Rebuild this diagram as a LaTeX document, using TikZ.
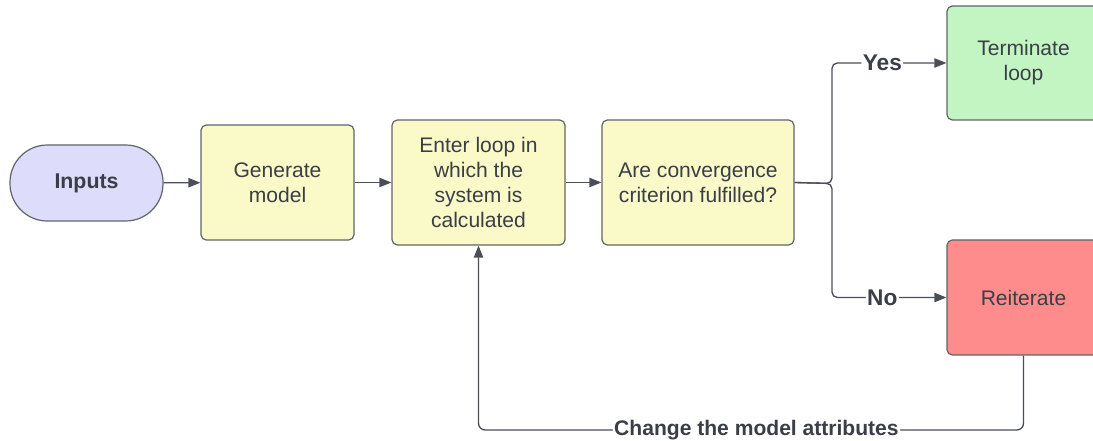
\documentclass[tikz,border=0pt]{standalone}
\usepackage{fontspec}
\setmainfont{Liberation Sans}
\usetikzlibrary{arrows.meta}
\definecolor{txt}{HTML}{3A3F47}
\definecolor{edge}{HTML}{5F646B}
\definecolor{ln}{HTML}{4A4F57}
\definecolor{yel}{HTML}{FAF9C8}
\definecolor{pur}{HTML}{DDDDFB}
\definecolor{grn}{HTML}{C3F5C3}
\definecolor{rd}{HTML}{FF8C8C}
\tikzset{
  box/.style={draw=edge, line width=0.9pt, rounded corners=4pt, align=center,
    text=txt, font=\fontsize{15.8}{18.8}\selectfont, inner sep=0pt},
  conn/.style={draw=ln, line width=1pt, -{Triangle[length=9pt,width=7pt]}},
  lbl/.style={fill=white, text=txt, font=\bfseries\fontsize{15.8}{18}\selectfont, inner sep=1pt},
}
\begin{document}
\begin{tikzpicture}[x=0.75pt,y=-0.75pt]
\useasboundingbox (0,0) rectangle (1093,441);
\clip (0,0) rectangle (1093,441);
\node[box, fill=pur, rounded corners=28pt, minimum width=153*0.75pt, minimum height=76*0.75pt,
  font=\bfseries\fontsize{16}{18}\selectfont] (in) at (86.5,183) {Inputs};
\node[box, fill=yel, minimum width=153*0.75pt, minimum height=115*0.75pt] (gen) at (277.5,182.5) {Generate\\model};
\node[box, fill=yel, minimum width=173*0.75pt, minimum height=125*0.75pt] (ent) at (478.5,182.5) {Enter loop in\\which the\\system is\\calculated};
\node[box, fill=yel, minimum width=192*0.75pt, minimum height=125*0.75pt] (conv) at (698,182.5) {Are convergence\\criterion fulfilled?};
\node[box, fill=grn, minimum width=153*0.75pt, minimum height=114*0.75pt] (term) at (1023.5,63) {Terminate\\loop};
\node[box, fill=rd, minimum width=153*0.75pt, minimum height=115*0.75pt] (reit) at (1023.5,297.5) {Reiterate};
\coordinate (split) at (832,183.5);
\coordinate (bot) at (1023.5,430);
\draw[conn] (in) -- (gen);
\draw[conn] (gen) -- (ent);
\draw[conn] (ent) -- (conv);
\draw[conn, rounded corners=4pt] (conv.east) -- (split) |- node[lbl, pos=0.72, font=\bfseries\fontsize{17}{18}\selectfont] {Yes} (term.west);
\draw[conn, rounded corners=4pt] (conv.east) -- (split) |- node[lbl, pos=0.72, font=\bfseries\fontsize{17}{18}\selectfont] {No} (reit.west);
\draw[conn, rounded corners=5pt] (reit.south) -- (bot) -- node[lbl, pos=0.49] {Change the model attributes} (bot -| ent.south) -- (ent.south);
\end{tikzpicture}
\end{document}
